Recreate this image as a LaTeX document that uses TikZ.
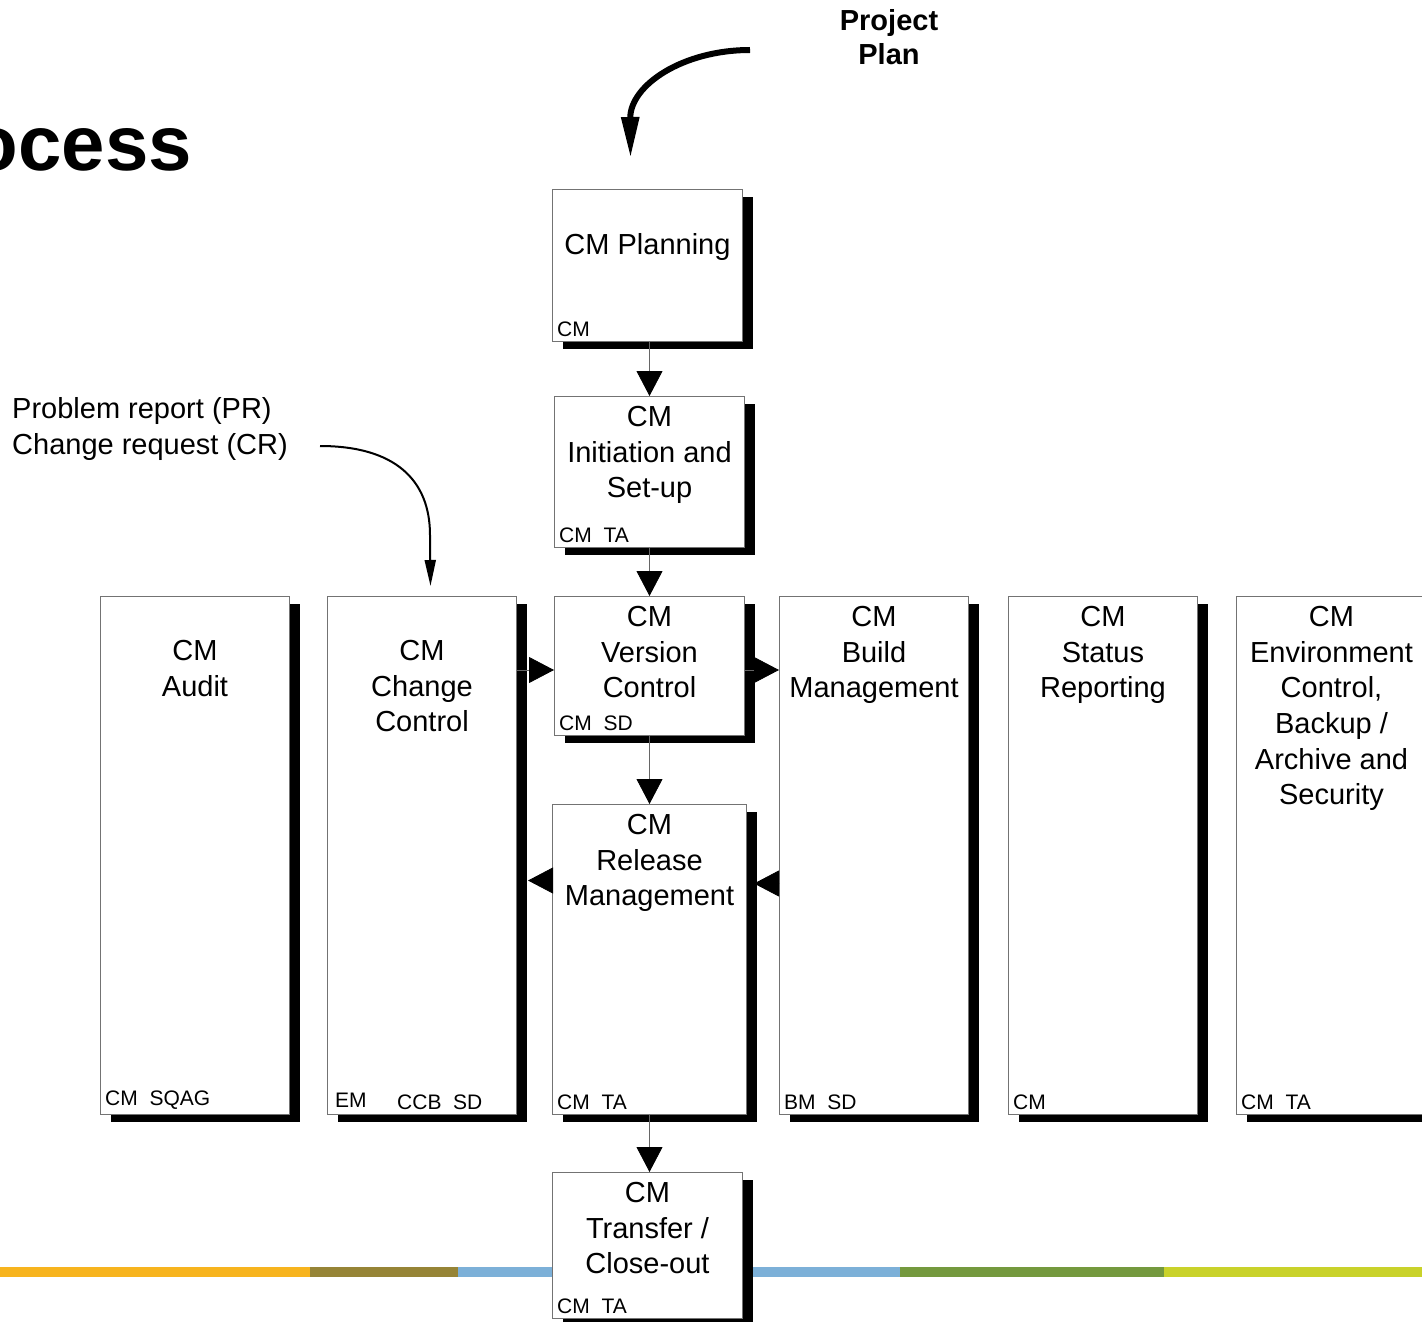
\documentclass[tikz,border=0pt]{standalone}
\usepackage{fontspec}
\setmainfont{Liberation Sans}
\usetikzlibrary{positioning, arrows.meta, shadows}
\definecolor{barorange}{HTML}{F7B41E}
\definecolor{barolive}{HTML}{968436}
\definecolor{barblue}{HTML}{7CB0D8}
\definecolor{bargreen}{HTML}{74993E}
\definecolor{barlime}{HTML}{C9D22A}
\tikzset{
	x=1pt, y=-1pt,
	cmbox/.style={draw=black!55, line width=1pt, fill=white, anchor=north west, inner sep=0pt,
		general shadow={fill=black, shadow xshift=10pt, shadow yshift=-7pt}},
	boxtitle/.style={align=center, inner sep=0pt, font=\fontsize{29}{35.7}\selectfont},
	rolelabel/.style={anchor=south west, inner xsep=5pt, inner ysep=5pt, font=\fontsize{21}{22}\selectfont},
	flow/.style={draw=black!60, line width=0.8pt, -{Triangle[length=25pt, width=26pt, color=black]}},
	bar/.style={line width=10pt}}

\begin{document}
\begin{tikzpicture}
		\useasboundingbox (0,0) rectangle (1422,1322);
		\clip (0,0) rectangle (1422,1322);
		
		% coloured bar at the foot
		\draw[bar, barorange] (0,1272) -- (310,1272);
		\draw[bar, barolive] (310,1272) -- (458,1272);
		\draw[bar, barblue] (458,1272) -- (900,1272);
		\draw[bar, bargreen] (900,1272) -- (1164,1272);
		\draw[bar, barlime] (1164,1272) -- (1422,1272);
		
		\node[anchor=base east, inner sep=0pt, font=\fontsize{78}{78}\selectfont\bfseries] (title) at (192,170) {Process};
		
		% boxes
		\node[cmbox, minimum width=190pt, minimum height=152pt] (plan) at (552,189) {};
		\node[cmbox, minimum width=190pt, minimum height=151pt] (init) at (554,396) {};
		\node[cmbox, minimum width=189pt, minimum height=518pt] (audit) at (100,596) {};
		\node[cmbox, minimum width=189pt, minimum height=518pt] (change) at (327,596) {};
		\node[cmbox, minimum width=190pt, minimum height=139pt] (ver) at (554,596) {};
		\node[cmbox, minimum width=189pt, minimum height=518pt] (build) at (779,596) {};
		\node[cmbox, minimum width=189pt, minimum height=518pt] (status) at (1008,596) {};
		\node[cmbox, minimum width=190pt, minimum height=518pt] (env) at (1236,596) {};
		\node[cmbox, minimum width=194pt, minimum height=310pt] (rel) at (552,804) {};
		\node[cmbox, minimum width=190pt, minimum height=146pt] (trans) at (552,1172) {};
		
		% box titles
		\node[boxtitle, below=44pt of plan.north] (planT) {CM Planning};
		\node[boxtitle, below=10pt of init.north] (initT) {CM\\Initiation and\\Set-up};
		\node[boxtitle, below=44pt of audit.north] (auditT) {CM\\Audit};
		\node[boxtitle, below=44pt of change.north] (changeT) {CM\\Change\\Control};
		\node[boxtitle, below=10pt of ver.north] (verT) {CM\\Version\\Control};
		\node[boxtitle, below=10pt of build.north] (buildT) {CM\\Build\\Management};
		\node[boxtitle, below=10pt of status.north] (statusT) {CM\\Status\\Reporting};
		\node[boxtitle, below=10pt of env.north] (envT) {CM\\Environment\\Control,\\Backup /\\Archive and\\Security};
		\node[boxtitle, below=10pt of rel.north] (relT) {CM\\Release\\Management};
		\node[boxtitle, below=10pt of trans.north] (transT) {CM\\Transfer /\\Close-out};
		
		% roles
		\node[rolelabel] (planR) at (plan.south west) {CM};
		\node[rolelabel] (initR) at (init.south west) {CM~~TA};
		\node[rolelabel] (auditR) at (audit.south west) {CM~~SQAG};
		\node[rolelabel, inner xsep=8pt, inner ysep=7pt] (changeR) at (change.south west) {EM};
		\node[rolelabel, inner xsep=0pt] (changeRb) at ([xshift=70pt]change.south west) {CCB~~SD};
		\node[rolelabel] (verR) at (ver.south west) {CM~~SD};
		\node[rolelabel] (buildR) at (build.south west) {BM~~SD};
		\node[rolelabel] (statusR) at (status.south west) {CM};
		\node[rolelabel] (envR) at (env.south west) {CM~~TA};
		\node[rolelabel] (relR) at (rel.south west) {CM~~TA};
		\node[rolelabel] (transR) at (trans.south west) {CM~~TA};
		
		% inputs
		\node[anchor=north, align=center, inner sep=0pt, font=\fontsize{29}{34}\selectfont\bfseries] (pplan) at (889,9) {Project\\Plan};
		\node[anchor=north west, align=left, inner sep=0pt, font=\fontsize{29}{36}\selectfont] (prcr) at (12,397) {Problem report (PR)\\Change request (CR)};
		\coordinate (pplanIn) at (750,50);
		\coordinate (planTip) at ([xshift=-17pt, yshift=31pt]plan.north);
		\coordinate (prcrIn) at (320,446);
		\coordinate (prcrTip) at ([xshift=8.5pt, yshift=10pt]change.north);
		\draw[line width=6pt, -{Triangle[length=41pt, width=17pt]}] (pplanIn) .. controls (683,50) and (630,85) .. (planTip);
		\draw[line width=2pt, -{Triangle[length=26pt, width=11pt]}] (prcrIn) .. controls (395,446) and (430,480) .. (430,535) -- (prcrTip);
		
		% flow between boxes
		\coordinate (verIn) at ([yshift=-4pt]ver.west);
		\coordinate (verOut) at ([yshift=-4pt]ver.east);
		\coordinate (relOutL) at ([yshift=79pt]rel.west);
		\coordinate (chgIn) at ([xshift=11pt]change.east);
		\coordinate (relIn) at ([xshift=7pt, yshift=76pt]rel.east);
		\draw[flow] (init.north |- plan.south) -- (init.north);
		\draw[flow] (init.south) -- (ver.north);
		\draw[flow] (ver.south) -- (ver.south |- rel.north);
		\draw[flow] (rel.south) -- (rel.south |- trans.north);
		\draw[flow] (change.east |- verIn) -- (verIn);
		\draw[flow] (verOut) -- (verOut -| build.west);
		\draw[flow] (relOutL) -- (chgIn |- relOutL);
		\draw[flow] (build.west |- relIn) -- (relIn);
	\end{tikzpicture}
\end{document}
